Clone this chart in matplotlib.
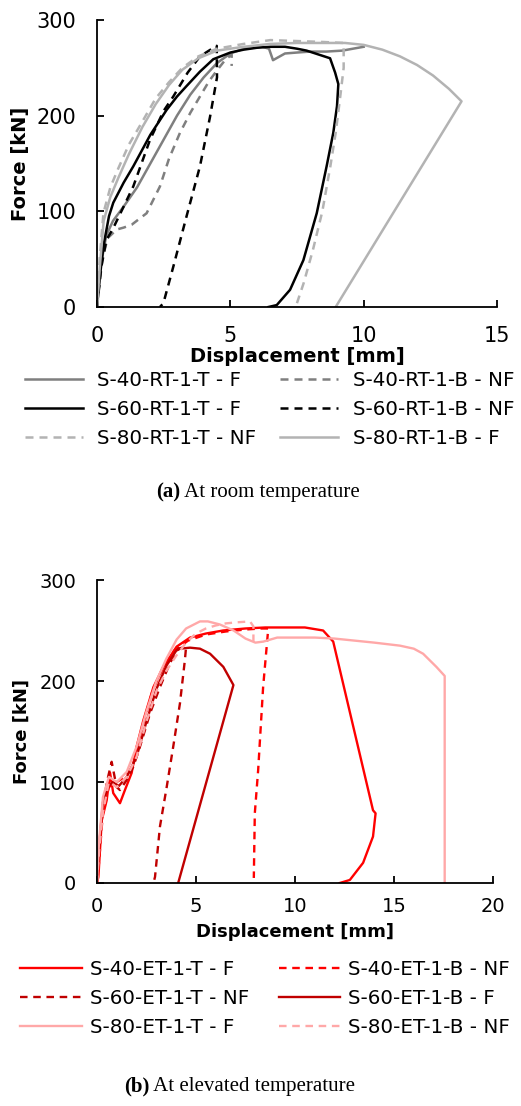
import matplotlib
matplotlib.use("Agg")
import matplotlib.pyplot as plt

# ---------------- data: (a) room temperature ----------------
rt_labels = ["S-40-RT-1-T - F", "S-40-RT-1-B - NF", "S-60-RT-1-T - F",
             "S-60-RT-1-B - NF", "S-80-RT-1-T - NF", "S-80-RT-1-B - F"]

rt40T_x = [0, 0.15, 0.35, 0.6, 1.0, 1.5, 2.0, 2.5, 3.0, 3.5, 4.0, 4.5, 5.0, 5.5, 6.2, 6.45, 6.6, 7.05, 7.5, 8.0, 8.6, 9.2, 10.0]
rt40T_F = [0, 45, 75, 90, 105, 125, 150, 175, 200, 222, 240, 255, 265, 270, 272, 270, 258, 265, 266, 267, 267, 268, 272]

rt40B_x = [0, 0.2, 0.4, 0.74, 1.0, 1.3, 1.86, 2.36, 2.7, 3.11, 3.5, 3.86, 4.2, 4.49, 4.8, 5.05, 5.05]
rt40B_F = [0, 50, 72, 81, 83, 86, 98, 126, 155, 182, 203, 220, 236, 247, 258, 264, 252]

rt60T_x = [0, 0.1, 0.25, 0.45, 0.61, 1.0, 1.36, 2.0, 2.61, 3.0, 3.36, 3.86, 4.36, 5.0, 5.5, 6.0, 6.5, 7.05, 7.5, 7.86, 8.3, 8.74, 8.93, 9.05, 9.0, 8.86, 8.61, 8.24, 7.74, 7.24, 6.74, 6.43]
rt60T_F = [0, 30, 65, 95, 109, 130, 147, 180, 206, 220, 231, 246, 259, 266, 269, 271, 272, 272, 270, 268, 264, 260, 245, 233, 210, 182, 147, 98, 49, 18, 2, 0]

rt60B_x = [0, 0.15, 0.35, 0.6, 1.0, 1.36, 1.99, 2.5, 2.86, 3.4, 3.86, 4.2, 4.49, 4.5, 4.24, 3.86, 3.36, 2.86, 2.49, 2.36]
rt60B_F = [0, 40, 70, 82, 105, 126, 175, 205, 220, 245, 262, 268, 273, 240, 199, 147, 95, 42, 4, 0]

rt80T_x = [0, 0.1, 0.24, 0.5, 0.8, 1.2, 1.6, 2.2, 2.7, 3.2, 3.8, 4.5, 5.5, 6.5, 7.5, 8.5, 9.25, 9.25, 9.1, 8.95, 8.75, 8.45, 8.1, 7.75, 7.45]
rt80T_F = [0, 50, 98, 125, 145, 170, 189, 218, 235, 250, 262, 270, 275, 279, 278, 277, 276, 250, 215, 182, 147, 100, 60, 25, 0]

rt80B_x = [0, 0.1, 0.25, 0.5, 0.8, 1.2, 1.7, 2.2, 2.7, 3.2, 3.8, 4.5, 5.5, 6.5, 7.5, 8.5, 9.3, 10.0, 10.7, 11.36, 12.0, 12.6, 13.2, 13.67, 8.95]
rt80B_F = [0, 40, 90, 115, 135, 160, 188, 212, 232, 248, 260, 268, 272, 275, 276, 276, 276, 274, 269, 262, 253, 242, 228, 215, 0]

# ---------------- data: (b) elevated temperature ----------------
et_labels = ["S-40-ET-1-T - F", "S-40-ET-1-B - NF", "S-60-ET-1-T - NF",
             "S-60-ET-1-B - F", "S-80-ET-1-T - F", "S-80-ET-1-B - NF"]

et40T_x = [0, 0.07, 0.24, 0.49, 0.66, 0.82, 1.16, 1.41, 1.75, 2.0, 2.34, 2.85, 3.35, 4.02, 4.7, 5.5, 6.37, 7.5, 8.5, 9.5, 10.5, 11.42, 11.93, 13.94, 14.07, 13.94, 13.44, 12.77, 12.26]
et40T_F = [0, 6, 62, 82, 109, 89, 79, 92, 109, 135, 161, 194, 214, 234, 243, 247, 250, 252, 253, 253, 253, 250, 239, 72, 69, 46, 20, 3, 0]

et40B_x = [0, 0.1, 0.3, 0.6, 1.0, 1.4, 1.8, 2.3, 2.8, 3.3, 3.9, 4.6, 5.5, 6.5, 7.5, 8.3, 8.65, 8.39, 8.14, 7.97, 7.92]
et40B_F = [0, 20, 70, 95, 100, 105, 115, 155, 190, 212, 230, 240, 246, 249, 251, 252, 252, 194, 112, 69, 5]

et60T_x = [0, 0.1, 0.3, 0.5, 0.74, 0.99, 1.16, 1.5, 1.83, 2.17, 2.68, 3.18, 3.69, 4.1, 4.5, 4.44, 4.19, 3.85, 3.52, 3.18, 2.93, 2.85]
et60T_F = [0, 30, 75, 100, 120, 95, 92, 102, 115, 135, 168, 194, 218, 232, 234, 221, 178, 135, 95, 56, 6, 0]

et60B_x = [0, 0.1, 0.3, 0.55, 0.8, 1.1, 1.5, 2.0, 2.5, 3.0, 3.5, 4.0, 4.2, 4.7, 5.2, 5.71, 6.38, 6.89, 4.1]
et60B_F = [0, 35, 80, 95, 100, 96, 105, 125, 160, 192, 215, 230, 232, 233, 232, 227, 214, 196, 0]

et80T_x = [0, 0.1, 0.3, 0.6, 1.0, 1.5, 2.0, 2.5, 3.0, 3.5, 4.02, 4.5, 5.2, 5.6, 6.2, 6.9, 7.5, 8.0, 8.4, 9.1, 10.0, 11.0, 12.0, 13.0, 14.0, 15.3, 16.0, 16.47, 17.14, 17.56, 17.56]
et80T_F = [0, 40, 85, 105, 100, 110, 135, 170, 200, 222, 241, 252, 259, 259, 256, 250, 242, 238, 239, 243, 243, 243, 242, 240, 238, 235, 232, 227, 214, 205, 0]

et80B_x = [0, 0.1, 0.3, 0.6, 1.0, 1.5, 2.0, 2.5, 3.0, 3.5, 4.0, 4.5, 5.0, 5.5, 6.0, 6.5, 7.0, 7.73, 7.9, 7.9]
et80B_F = [0, 30, 70, 100, 95, 105, 125, 160, 190, 210, 225, 238, 247, 252, 255, 257, 258, 259, 254, 239]

xticks_a = [0, 5, 10, 15]
xticks_b = [0, 5, 10, 15, 20]
yticks = [0, 100, 200, 300]

# ---------------- styling ----------------
GRAY_M = "#7f7f7f"
GRAY_L = "#b3b3b3"
RED = "#ff0000"
DRED = "#c00000"
PINK = "#ffa8a8"
DASH = (3.2, 2.4)

plt.rcParams["font.family"] = ["DejaVu Sans"]

fig = plt.figure(figsize=(5.21, 11.06), dpi=100)
W, H = 521.0, 1106.0

def make_axes(l, t, r, b):
    return fig.add_axes([l / W, 1 - b / H, (r - l) / W, (b - t) / H])

def style(ax, xmax, xt, fs, pad_x, xlab_y):
    ax.set_xlim(0, xmax)
    ax.set_ylim(0, 300)
    ax.set_xticks(xt)
    ax.set_yticks(yticks)
    for s in ["top", "right"]:
        ax.spines[s].set_visible(False)
    for s in ["left", "bottom"]:
        ax.spines[s].set_linewidth(1.3)
    ax.tick_params(direction="in", length=5, width=1.3, labelsize=fs)
    ax.tick_params(axis="x", pad=pad_x)
    ax.tick_params(axis="y", pad=15)
    ax.set_xlabel("Displacement [mm]", fontsize=fs - 1, fontweight="bold")
    ax.xaxis.set_label_coords(0.5, xlab_y)
    ax.xaxis.label.set_va("center")
    ax.set_ylabel("Force [kN]", fontsize=fs - 1, fontweight="bold")
    ax.yaxis.set_label_coords(-0.19, 0.5)
    ax.yaxis.label.set_va("center")

LFS = 14.3
order = [0, 2, 4, 1, 3, 5]

# ---- (a)
ax1 = make_axes(97, 20, 497, 307)
lw = 1.8
h = {}
h[0], = ax1.plot(rt40T_x, rt40T_F, color=GRAY_M, lw=lw, label=rt_labels[0])
h[1], = ax1.plot(rt40B_x, rt40B_F, color=GRAY_M, lw=lw, dashes=DASH, label=rt_labels[1])
h[2], = ax1.plot(rt60T_x, rt60T_F, color="black", lw=lw, label=rt_labels[2])
h[3], = ax1.plot(rt60B_x, rt60B_F, color="black", lw=lw, dashes=DASH, label=rt_labels[3])
h[4], = ax1.plot(rt80T_x, rt80T_F, color=GRAY_L, lw=lw, dashes=DASH, label=rt_labels[4])
h[5], = ax1.plot(rt80B_x, rt80B_F, color=GRAY_L, lw=lw, label=rt_labels[5])
style(ax1, 15, xticks_a, 15, 14, -0.174)
fig.legend([h[i] for i in order], [rt_labels[i] for i in order], ncol=2,
           loc="upper left", bbox_to_anchor=(25 / W, 1 - 371 / H),
           frameon=False, fontsize=LFS, borderpad=0, borderaxespad=0,
           handlelength=2.9, handletextpad=0.75, columnspacing=1.2,
           labelspacing=0.5)

# ---- (b)
ax2 = make_axes(97, 580, 493, 883)
lw2 = 1.7
g = {}
g[0], = ax2.plot(et40T_x, et40T_F, color=RED, lw=lw2, label=et_labels[0])
g[1], = ax2.plot(et40B_x, et40B_F, color=RED, lw=lw2, dashes=DASH, label=et_labels[1])
g[2], = ax2.plot(et60T_x, et60T_F, color=DRED, lw=lw2, dashes=DASH, label=et_labels[2])
g[3], = ax2.plot(et60B_x, et60B_F, color=DRED, lw=lw2, label=et_labels[3])
g[4], = ax2.plot(et80T_x, et80T_F, color=PINK, lw=lw2, label=et_labels[4])
g[5], = ax2.plot(et80B_x, et80B_F, color=PINK, lw=lw2, dashes=DASH, label=et_labels[5])
style(ax2, 20, xticks_b, 14, 10, -0.162)
fig.legend([g[i] for i in order], [et_labels[i] for i in order], ncol=2,
           loc="upper left", bbox_to_anchor=(20 / W, 1 - 960 / H),
           frameon=False, fontsize=LFS, borderpad=0, borderaxespad=0,
           handlelength=3.1, handletextpad=0.4, columnspacing=1.5,
           labelspacing=0.5)

# ---- captions
renderer = fig.canvas.get_renderer()
def caption(x0, yc, bold, rest):
    t1 = fig.text(x0 / W, 1 - yc / H, bold, family="Liberation Serif",
                  fontweight="bold", fontsize=15, ha="left", va="center")
    bb = t1.get_window_extent(renderer)
    fig.text(bb.x1 / W, 1 - yc / H, " " + rest, family="Liberation Serif",
             fontsize=15, ha="left", va="center")

caption(156, 492, "(a)", "At room temperature")
caption(124, 1086, "(b)", "At elevated temperature")

fig.savefig("out.png", dpi=100)
